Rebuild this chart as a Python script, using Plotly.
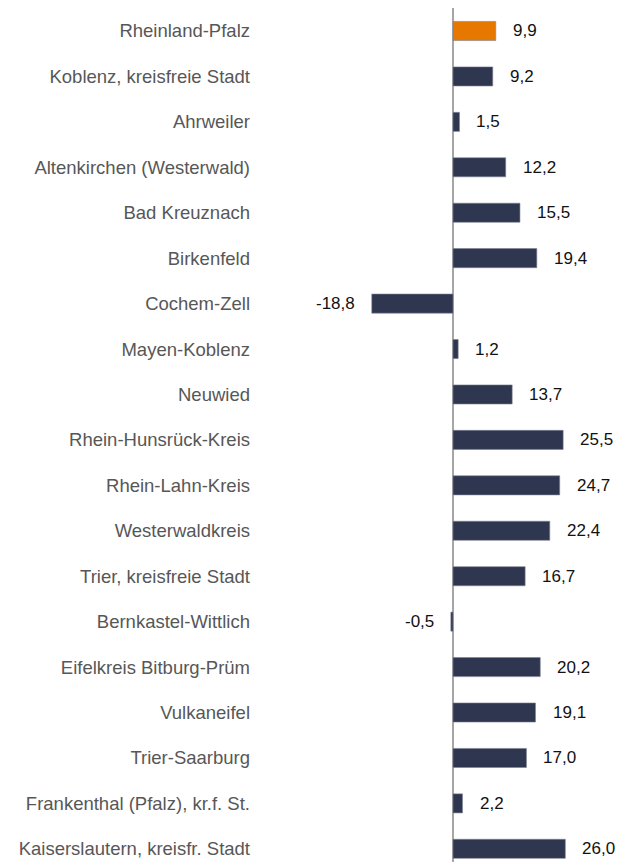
import plotly.graph_objects as go

# Regions and their values (percent change)
regions = [
    "Rheinland-Pfalz",
    "Koblenz, kreisfreie Stadt",
    "Ahrweiler",
    "Altenkirchen (Westerwald)",
    "Bad Kreuznach",
    "Birkenfeld",
    "Cochem-Zell",
    "Mayen-Koblenz",
    "Neuwied",
    "Rhein-Hunsrück-Kreis",
    "Rhein-Lahn-Kreis",
    "Westerwaldkreis",
    "Trier, kreisfreie Stadt",
    "Bernkastel-Wittlich",
    "Eifelkreis Bitburg-Prüm",
    "Vulkaneifel",
    "Trier-Saarburg",
    "Frankenthal (Pfalz), kr.f. St.",
    "Kaiserslautern, kreisfr. Stadt",
]
values = [9.9, 9.2, 1.5, 12.2, 15.5, 19.4, -18.8, 1.2, 13.7, 25.5,
          24.7, 22.4, 16.7, -0.5, 20.2, 19.1, 17.0, 2.2, 26.0]

NAVY = "#2E3650"
ORANGE = "#E67800"
FONT = "Liberation Sans, Arial, sans-serif"

positions = list(range(len(regions)))
colors = [ORANGE if r == "Rheinland-Pfalz" else NAVY for r in regions]

fig = go.Figure()
fig.add_trace(go.Bar(
    x=values,
    y=positions,
    orientation="h",
    width=0.42,
    marker=dict(color=colors, line=dict(color="#7d8290", width=0.6)),
    hoverinfo="skip",
))

def fmt(v):
    return f"{v:.1f}".replace(".", ",")

annotations = []
for pos, v in zip(positions, values):
    annotations.append(dict(
        x=v, y=pos, xref="x", yref="y",
        text=fmt(v), showarrow=False,
        xanchor="left" if v >= 0 else "right",
        xshift=15 if v >= 0 else -15,
        font=dict(family=FONT, size=17, color="#111111"),
    ))

px_per_unit = 4.32
left_margin = 251
zero_px = 453
x_min = -(zero_px - left_margin) / px_per_unit
x_max = (621 - zero_px) / px_per_unit

fig.update_layout(
    width=621,
    height=862,
    margin=dict(l=left_margin, r=0, t=8, b=0),
    paper_bgcolor="white",
    plot_bgcolor="white",
    showlegend=False,
    annotations=annotations,
    xaxis=dict(
        range=[x_min, x_max],
        showgrid=False,
        showticklabels=False,
        zeroline=True,
        zerolinecolor="#A6A6A6",
        zerolinewidth=1.5,
        fixedrange=True,
    ),
    yaxis=dict(
        range=[18.29, -0.506],
        tickmode="array",
        tickvals=positions,
        ticktext=regions,
        ticks="",
        showgrid=False,
        zeroline=False,
        tickfont=dict(family=FONT, size=18.5, color="#575757"),
        fixedrange=True,
    ),
)

fig.write_html("out.html")
